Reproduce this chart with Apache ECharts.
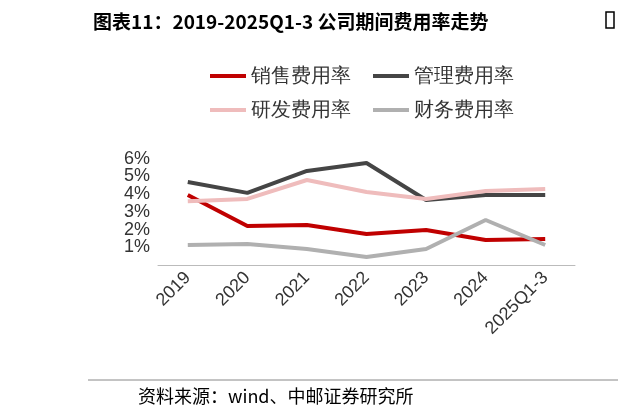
<!DOCTYPE html>
<html><head><meta charset="utf-8">
<script src="https://cdn.jsdelivr.net/npm/echarts@6/dist/echarts.min.js"></script>
<style>body{margin:0;background:#fff}#main{width:618px;height:419px}</style>
</head><body><div id="main"></div>
<script>
var categories = ['2019', '2020', '2021', '2022', '2023', '2024', '2025Q1-3'];
var salesRate = [3.95, 2.2, 2.26, 1.75, 1.98, 1.41, 1.47];
var mgmtRate = [4.69, 4.07, 5.31, 5.76, 3.67, 3.95, 3.95];
var rdRate = [3.6, 3.73, 4.8, 4.12, 3.73, 4.18, 4.29];
var finRate = [1.13, 1.19, 0.9, 0.45, 0.9, 2.54, 1.13];
var yTicks = ['0%', '1%', '2%', '3%', '4%', '5%', '6%', '7%'];

var myChart = echarts.init(document.getElementById('main'));
function line(name, data, color) {
    return {name: name, type: 'line', data: data, symbol: 'none',
        lineStyle: {color: color, width: 4}, itemStyle: {color: color}};
}
myChart.setOption({
    animation: false,
    title: {
        text: '图表11：2019-2025Q1-3 公司期间费用率走势',
        left: 88, top: 7,
        textStyle: {fontSize: 19, fontWeight: 'bold', color: '#000', fontFamily: 'Noto Sans CJK SC'}
    },
    graphic: [
        {type: 'line', shape: {x1: 88, y1: 380, x2: 618, y2: 380}, style: {stroke: '#888', lineWidth: 1}},
        {type: 'text', left: 138, top: 387, style: {text: '资料来源：wind、中邮证券研究所', fontSize: 18, fill: '#000', fontFamily: 'Noto Sans CJK SC'}},
        {type: 'rect', shape: {x: 606, y: 12, width: 8, height: 16}, style: {fill: '#fff', stroke: '#000', lineWidth: 1.5}}
    ],
    legend: [
        {data: ['销售费用率', '管理费用率'], top: 61, left: 205, itemWidth: 36, itemHeight: 4, itemGap: 22,
            textStyle: {fontSize: 20, color: '#333'}, icon: 'rect'},
        {data: ['研发费用率', '财务费用率'], top: 95, left: 205, itemWidth: 36, itemHeight: 4, itemGap: 22,
            textStyle: {fontSize: 20, color: '#333'}, icon: 'rect'}
    ],
    grid: {left: 158, right: 43, top: 141, bottom: 154},
    xAxis: {
        type: 'category', data: categories,
        axisLine: {lineStyle: {color: '#bbb'}}, axisTick: {show: false},
        axisLabel: {rotate: 45, fontSize: 18, color: '#333', interval: 0, margin: 10}
    },
    yAxis: {
        type: 'value', min: 0, max: 7, interval: 1,
        splitLine: {show: false}, axisLine: {show: false}, axisTick: {show: false},
        axisLabel: {fontSize: 18, color: '#333', formatter: function (v) { return yTicks[v]; }}
    },
    series: [
        line('销售费用率', salesRate, '#c00000'),
        line('管理费用率', mgmtRate, '#454545'),
        line('研发费用率', rdRate, '#efbcbc'),
        line('财务费用率', finRate, '#b0b0b0')
    ]
});
</script></body></html>
